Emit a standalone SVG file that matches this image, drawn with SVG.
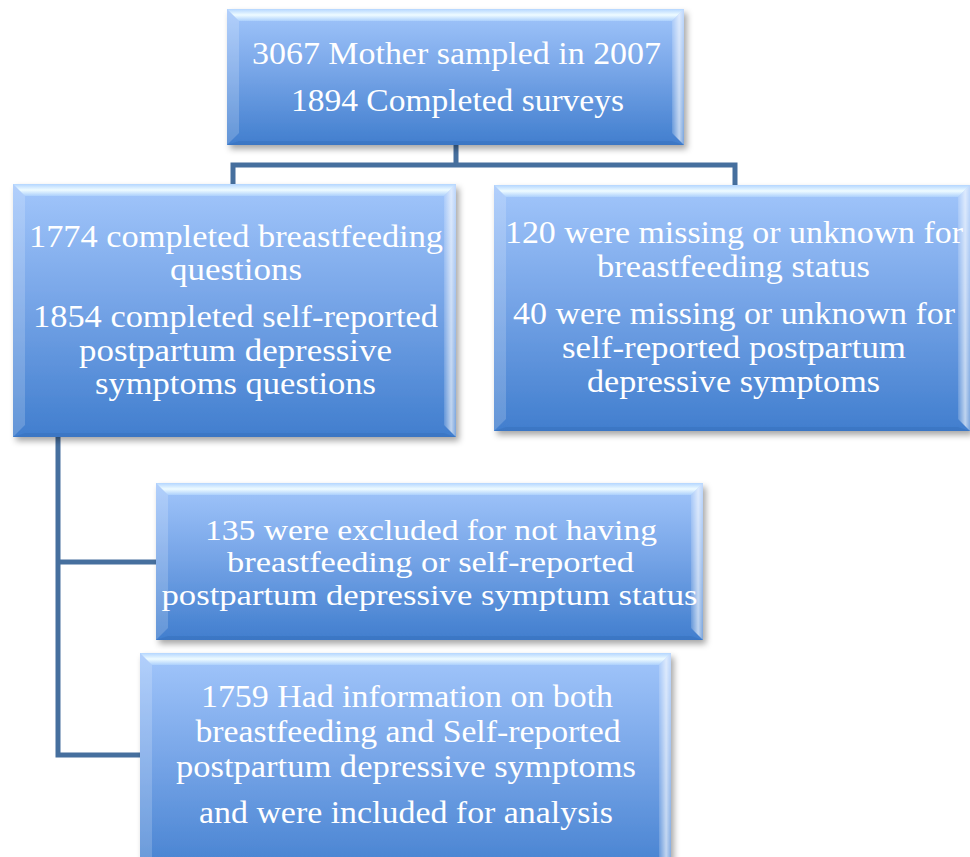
<svg xmlns="http://www.w3.org/2000/svg" width="970" height="857" viewBox="0 0 970 857">
<style>
  .body { fill: url(#gBody); }
  .bt { fill: url(#gTop); }
  .bl { fill: #ffffff; fill-opacity: 0.18; }
  .br { fill: url(#gRight); }
  .bb { fill: #2d5fa8; fill-opacity: 0.25; }
  .lbl { font-family: "Liberation Serif", "Times New Roman", serif; font-size: 32px; fill: #ffffff; text-anchor: middle; }
  .sm { font-size: 30px; }
  .conn { fill: none; stroke: #466f9e; stroke-width: 5; stroke-linejoin: miter; stroke-linecap: butt; }
</style>
<defs>
  <linearGradient id="gBody" x1="0" y1="0" x2="0" y2="1">
    <stop offset="0" stop-color="#a2c6fb"/>
    <stop offset="0.45" stop-color="#78a6e8"/>
    <stop offset="1" stop-color="#417ece"/>
  </linearGradient>
  <linearGradient id="gTop" x1="0" y1="0" x2="0" y2="1">
    <stop offset="0" stop-color="#b4d6ff"/>
    <stop offset="0.5" stop-color="#eefbff"/>
    <stop offset="1" stop-color="#acd0fc"/>
  </linearGradient>
  <linearGradient id="gRight" x1="0" y1="0" x2="1" y2="0">
    <stop offset="0" stop-color="#ffffff" stop-opacity="0.15"/>
    <stop offset="0.6" stop-color="#ffffff" stop-opacity="0.65"/>
    <stop offset="1" stop-color="#ffffff" stop-opacity="0.3"/>
  </linearGradient>
  <filter id="sh" x="-5%" y="-5%" width="115%" height="120%">
    <feDropShadow dx="3" dy="4" stdDeviation="3" flood-color="#000000" flood-opacity="0.35"/>
  </filter>
</defs>
<rect width="970" height="857" fill="#ffffff"/>

<g id="connectors">
  <path class="conn" d="M456,145 V165 M233,186 V165 H735 V186"/>
  <path class="conn" d="M58,437 V755 H141 M58,562 H157"/>
</g>

<g id="n_top">
  <g filter="url(#sh)"><rect class="body" x="227" y="9" width="457" height="136"/></g>
  <polygon class="bt" points="227,9 684,9 672,21 239,21"/>
  <polygon class="bl" points="227,9 239,21 239,133 227,145"/>
  <polygon class="br" points="684,9 684,145 672,133 672,21"/>
  <polygon class="bb" points="227,145 239,141 672,141 684,145"/>
  <text class="lbl" x="456.5" y="64" textLength="409" lengthAdjust="spacingAndGlyphs">3067 Mother sampled in 2007</text>
  <text class="lbl" x="457.5" y="111" textLength="333" lengthAdjust="spacingAndGlyphs">1894 Completed surveys</text>
</g>

<g id="n_left">
  <g filter="url(#sh)"><rect class="body" x="13" y="184" width="443" height="253"/></g>
  <polygon class="bt" points="13,184 456,184 444,196 25,196"/>
  <polygon class="bl" points="13,184 25,196 25,425 13,437"/>
  <polygon class="br" points="456,184 456,437 444,425 444,196"/>
  <polygon class="bb" points="13,437 25,433 444,433 456,437"/>
  <text class="lbl" x="236" y="247" textLength="414" lengthAdjust="spacingAndGlyphs">1774 completed breastfeeding</text>
  <text class="lbl" x="236" y="280" textLength="132" lengthAdjust="spacingAndGlyphs">questions</text>
  <text class="lbl" x="235.5" y="327" textLength="405" lengthAdjust="spacingAndGlyphs">1854 completed self-reported</text>
  <text class="lbl" x="235.5" y="361" textLength="313" lengthAdjust="spacingAndGlyphs">postpartum depressive</text>
  <text class="lbl" x="235.5" y="394" textLength="281" lengthAdjust="spacingAndGlyphs">symptoms questions</text>
</g>

<g id="n_right">
  <g filter="url(#sh)"><rect class="body" x="494" y="185" width="476" height="246"/></g>
  <polygon class="bt" points="494,185 970,185 958,197 506,197"/>
  <polygon class="bl" points="494,185 506,197 506,419 494,431"/>
  <polygon class="br" points="970,185 970,431 958,419 958,197"/>
  <polygon class="bb" points="494,431 506,427 958,427 970,431"/>
  <text class="lbl" x="734" y="243" textLength="458" lengthAdjust="spacingAndGlyphs">120 were missing or unknown for</text>
  <text class="lbl" x="733.5" y="277" textLength="273" lengthAdjust="spacingAndGlyphs">breastfeeding status</text>
  <text class="lbl" x="734" y="324" textLength="442" lengthAdjust="spacingAndGlyphs">40 were missing or unknown for</text>
  <text class="lbl" x="734" y="358" textLength="344" lengthAdjust="spacingAndGlyphs">self-reported postpartum</text>
  <text class="lbl" x="733.5" y="392" textLength="293" lengthAdjust="spacingAndGlyphs">depressive symptoms</text>
</g>

<g id="n_excluded">
  <g filter="url(#sh)"><rect class="body" x="156" y="483" width="547" height="157"/></g>
  <polygon class="bt" points="156,483 703,483 691,495 168,495"/>
  <polygon class="bl" points="156,483 168,495 168,628 156,640"/>
  <polygon class="br" points="703,483 703,640 691,628 691,495"/>
  <polygon class="bb" points="156,640 168,636 691,636 703,640"/>
  <text class="lbl sm" x="431" y="540" textLength="452" lengthAdjust="spacingAndGlyphs">135 were excluded for not having</text>
  <text class="lbl sm" x="430.5" y="572" textLength="407" lengthAdjust="spacingAndGlyphs">breastfeeding or self-reported</text>
  <text class="lbl sm" x="429.5" y="605" textLength="536" lengthAdjust="spacingAndGlyphs">postpartum depressive symptum status</text>
</g>

<g id="n_included">
  <g filter="url(#sh)"><rect class="body" x="140" y="653" width="531" height="230"/></g>
  <polygon class="bt" points="140,653 671,653 659,665 152,665"/>
  <polygon class="bl" points="140,653 152,665 152,883 140,883"/>
  <polygon class="br" points="671,653 671,883 659,883 659,665"/>
  <text class="lbl" x="407" y="707" textLength="412" lengthAdjust="spacingAndGlyphs">1759 Had information on both</text>
  <text class="lbl" x="408" y="742" textLength="425" lengthAdjust="spacingAndGlyphs">breastfeeding and Self-reported</text>
  <text class="lbl" x="406" y="777" textLength="460" lengthAdjust="spacingAndGlyphs">postpartum depressive symptoms</text>
  <text class="lbl" x="406" y="823" textLength="414" lengthAdjust="spacingAndGlyphs">and were included for analysis</text>
</g>
</svg>
